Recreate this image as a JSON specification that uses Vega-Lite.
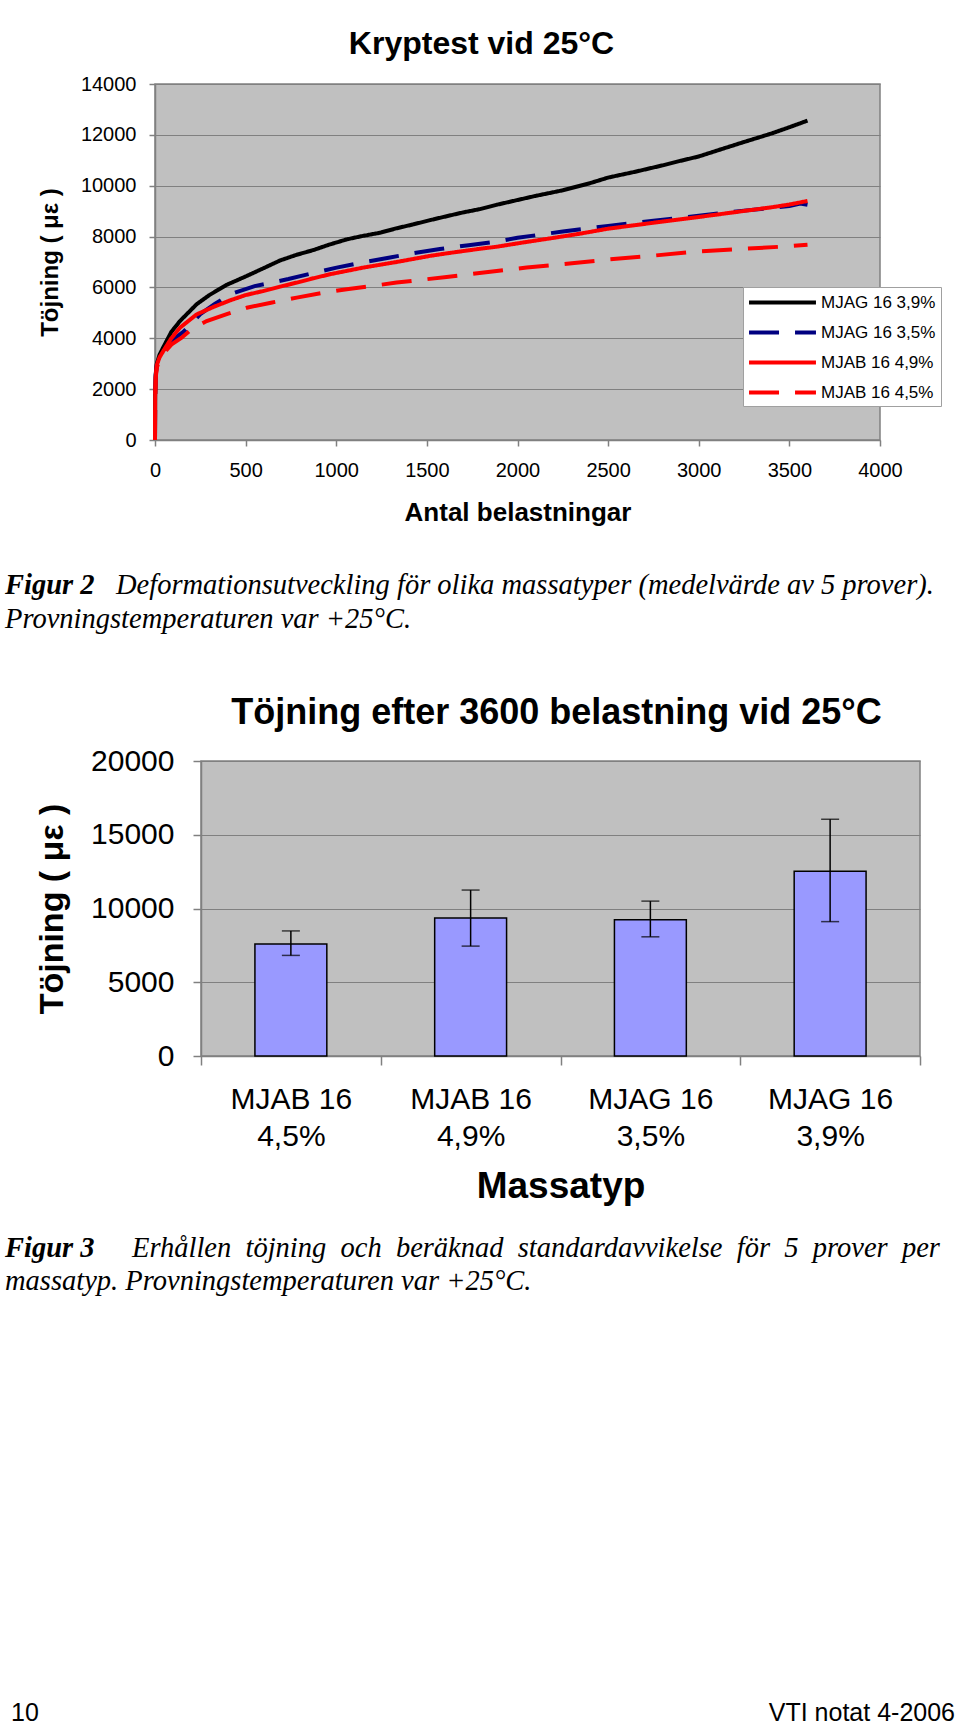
{
  "$schema": "https://vega.github.io/schema/vega-lite/v6.json",
  "padding": {"left": 5, "top": 27, "right": 5, "bottom": 0},
  "background": "white",
  "spacing": 0,
  "config": {
    "view": {"stroke": null},
    "font": "Liberation Sans",
    "axis": {"labelColor": "black", "titleColor": "black", "domainColor": "#808080", "tickColor": "#808080", "labelFont": "Liberation Sans", "titleFont": "Liberation Sans", "titleFontWeight": "bold", "gridColor": "#808080", "gridWidth": 1, "domainWidth": 1.5, "tickWidth": 1.5},
    "title": {"color": "black"}
  },
  "datasets": {
    "curves": [
      {"series": "MJAG 16 3,9%", "n": 0, "e": 0}, {"series": "MJAG 16 3,9%", "n": 1, "e": 1800}, {"series": "MJAG 16 3,9%", "n": 4, "e": 2600}, {"series": "MJAG 16 3,9%", "n": 10, "e": 3000}, {"series": "MJAG 16 3,9%", "n": 25, "e": 3350}, {"series": "MJAG 16 3,9%", "n": 46, "e": 3650}, {"series": "MJAG 16 3,9%", "n": 90, "e": 4250}, {"series": "MJAG 16 3,9%", "n": 138, "e": 4680}, {"series": "MJAG 16 3,9%", "n": 230, "e": 5340}, {"series": "MJAG 16 3,9%", "n": 300, "e": 5700}, {"series": "MJAG 16 3,9%", "n": 395, "e": 6100}, {"series": "MJAG 16 3,9%", "n": 506, "e": 6450}, {"series": "MJAG 16 3,9%", "n": 600, "e": 6760}, {"series": "MJAG 16 3,9%", "n": 690, "e": 7060}, {"series": "MJAG 16 3,9%", "n": 780, "e": 7280}, {"series": "MJAG 16 3,9%", "n": 874, "e": 7470}, {"series": "MJAG 16 3,9%", "n": 960, "e": 7680}, {"series": "MJAG 16 3,9%", "n": 1058, "e": 7890}, {"series": "MJAG 16 3,9%", "n": 1150, "e": 8030}, {"series": "MJAG 16 3,9%", "n": 1241, "e": 8150}, {"series": "MJAG 16 3,9%", "n": 1330, "e": 8320}, {"series": "MJAG 16 3,9%", "n": 1425, "e": 8480}, {"series": "MJAG 16 3,9%", "n": 1520, "e": 8650}, {"series": "MJAG 16 3,9%", "n": 1609, "e": 8800}, {"series": "MJAG 16 3,9%", "n": 1700, "e": 8950}, {"series": "MJAG 16 3,9%", "n": 1793, "e": 9080}, {"series": "MJAG 16 3,9%", "n": 1885, "e": 9250}, {"series": "MJAG 16 3,9%", "n": 1977, "e": 9400}, {"series": "MJAG 16 3,9%", "n": 2100, "e": 9600}, {"series": "MJAG 16 3,9%", "n": 2250, "e": 9820}, {"series": "MJAG 16 3,9%", "n": 2400, "e": 10100}, {"series": "MJAG 16 3,9%", "n": 2500, "e": 10320}, {"series": "MJAG 16 3,9%", "n": 2650, "e": 10550}, {"series": "MJAG 16 3,9%", "n": 2800, "e": 10800}, {"series": "MJAG 16 3,9%", "n": 2900, "e": 10980}, {"series": "MJAG 16 3,9%", "n": 3000, "e": 11150}, {"series": "MJAG 16 3,9%", "n": 3100, "e": 11380}, {"series": "MJAG 16 3,9%", "n": 3250, "e": 11720}, {"series": "MJAG 16 3,9%", "n": 3400, "e": 12050}, {"series": "MJAG 16 3,9%", "n": 3500, "e": 12300}, {"series": "MJAG 16 3,9%", "n": 3600, "e": 12560},
      {"series": "MJAG 16 3,5%", "n": 0, "e": 0}, {"series": "MJAG 16 3,5%", "n": 1, "e": 1750}, {"series": "MJAG 16 3,5%", "n": 4, "e": 2550}, {"series": "MJAG 16 3,5%", "n": 10, "e": 2950}, {"series": "MJAG 16 3,5%", "n": 25, "e": 3250}, {"series": "MJAG 16 3,5%", "n": 46, "e": 3480}, {"series": "MJAG 16 3,5%", "n": 90, "e": 3900}, {"series": "MJAG 16 3,5%", "n": 156, "e": 4250}, {"series": "MJAG 16 3,5%", "n": 250, "e": 4950}, {"series": "MJAG 16 3,5%", "n": 330, "e": 5350}, {"series": "MJAG 16 3,5%", "n": 414, "e": 5730}, {"series": "MJAG 16 3,5%", "n": 550, "e": 6050}, {"series": "MJAG 16 3,5%", "n": 736, "e": 6330}, {"series": "MJAG 16 3,5%", "n": 870, "e": 6560}, {"series": "MJAG 16 3,5%", "n": 1002, "e": 6780}, {"series": "MJAG 16 3,5%", "n": 1150, "e": 6990}, {"series": "MJAG 16 3,5%", "n": 1297, "e": 7180}, {"series": "MJAG 16 3,5%", "n": 1430, "e": 7350}, {"series": "MJAG 16 3,5%", "n": 1572, "e": 7510}, {"series": "MJAG 16 3,5%", "n": 1730, "e": 7660}, {"series": "MJAG 16 3,5%", "n": 1885, "e": 7800}, {"series": "MJAG 16 3,5%", "n": 2000, "e": 7950}, {"series": "MJAG 16 3,5%", "n": 2250, "e": 8200}, {"series": "MJAG 16 3,5%", "n": 2500, "e": 8420}, {"series": "MJAG 16 3,5%", "n": 2750, "e": 8620}, {"series": "MJAG 16 3,5%", "n": 3000, "e": 8820}, {"series": "MJAG 16 3,5%", "n": 3250, "e": 9020}, {"series": "MJAG 16 3,5%", "n": 3500, "e": 9200}, {"series": "MJAG 16 3,5%", "n": 3560, "e": 9300}, {"series": "MJAG 16 3,5%", "n": 3600, "e": 9250},
      {"series": "MJAB 16 4,9%", "n": 0, "e": 0}, {"series": "MJAB 16 4,9%", "n": 1, "e": 1700}, {"series": "MJAB 16 4,9%", "n": 4, "e": 2500}, {"series": "MJAB 16 4,9%", "n": 10, "e": 2950}, {"series": "MJAB 16 4,9%", "n": 25, "e": 3250}, {"series": "MJAB 16 4,9%", "n": 46, "e": 3500}, {"series": "MJAB 16 4,9%", "n": 90, "e": 4000}, {"series": "MJAB 16 4,9%", "n": 138, "e": 4420}, {"series": "MJAB 16 4,9%", "n": 230, "e": 4940}, {"series": "MJAB 16 4,9%", "n": 322, "e": 5230}, {"series": "MJAB 16 4,9%", "n": 414, "e": 5490}, {"series": "MJAB 16 4,9%", "n": 500, "e": 5700}, {"series": "MJAB 16 4,9%", "n": 598, "e": 5860}, {"series": "MJAB 16 4,9%", "n": 690, "e": 6030}, {"series": "MJAB 16 4,9%", "n": 782, "e": 6190}, {"series": "MJAB 16 4,9%", "n": 874, "e": 6360}, {"series": "MJAB 16 4,9%", "n": 966, "e": 6520}, {"series": "MJAB 16 4,9%", "n": 1058, "e": 6650}, {"series": "MJAB 16 4,9%", "n": 1149, "e": 6780}, {"series": "MJAB 16 4,9%", "n": 1241, "e": 6890}, {"series": "MJAB 16 4,9%", "n": 1333, "e": 7000}, {"series": "MJAB 16 4,9%", "n": 1425, "e": 7120}, {"series": "MJAB 16 4,9%", "n": 1517, "e": 7240}, {"series": "MJAB 16 4,9%", "n": 1609, "e": 7340}, {"series": "MJAB 16 4,9%", "n": 1701, "e": 7430}, {"series": "MJAB 16 4,9%", "n": 1793, "e": 7520}, {"series": "MJAB 16 4,9%", "n": 1885, "e": 7600}, {"series": "MJAB 16 4,9%", "n": 2051, "e": 7790}, {"series": "MJAB 16 4,9%", "n": 2200, "e": 7950}, {"series": "MJAB 16 4,9%", "n": 2350, "e": 8120}, {"series": "MJAB 16 4,9%", "n": 2500, "e": 8310}, {"series": "MJAB 16 4,9%", "n": 2650, "e": 8450}, {"series": "MJAB 16 4,9%", "n": 2800, "e": 8590}, {"series": "MJAB 16 4,9%", "n": 3000, "e": 8770}, {"series": "MJAB 16 4,9%", "n": 3200, "e": 8960}, {"series": "MJAB 16 4,9%", "n": 3400, "e": 9150}, {"series": "MJAB 16 4,9%", "n": 3500, "e": 9260}, {"series": "MJAB 16 4,9%", "n": 3600, "e": 9400},
      {"series": "MJAB 16 4,5%", "n": 0, "e": 0}, {"series": "MJAB 16 4,5%", "n": 1, "e": 1650}, {"series": "MJAB 16 4,5%", "n": 4, "e": 2450}, {"series": "MJAB 16 4,5%", "n": 10, "e": 2850}, {"series": "MJAB 16 4,5%", "n": 25, "e": 3150}, {"series": "MJAB 16 4,5%", "n": 46, "e": 3400}, {"series": "MJAB 16 4,5%", "n": 90, "e": 3750}, {"series": "MJAB 16 4,5%", "n": 147, "e": 4020}, {"series": "MJAB 16 4,5%", "n": 200, "e": 4350}, {"series": "MJAB 16 4,5%", "n": 285, "e": 4680}, {"series": "MJAB 16 4,5%", "n": 400, "e": 4960}, {"series": "MJAB 16 4,5%", "n": 506, "e": 5200}, {"series": "MJAB 16 4,5%", "n": 640, "e": 5400}, {"series": "MJAB 16 4,5%", "n": 782, "e": 5600}, {"series": "MJAB 16 4,5%", "n": 920, "e": 5780}, {"series": "MJAB 16 4,5%", "n": 1058, "e": 5930}, {"series": "MJAB 16 4,5%", "n": 1200, "e": 6060}, {"series": "MJAB 16 4,5%", "n": 1333, "e": 6190}, {"series": "MJAB 16 4,5%", "n": 1470, "e": 6300}, {"series": "MJAB 16 4,5%", "n": 1609, "e": 6410}, {"series": "MJAB 16 4,5%", "n": 1750, "e": 6530}, {"series": "MJAB 16 4,5%", "n": 1885, "e": 6650}, {"series": "MJAB 16 4,5%", "n": 2051, "e": 6780}, {"series": "MJAB 16 4,5%", "n": 2300, "e": 6950}, {"series": "MJAB 16 4,5%", "n": 2500, "e": 7100}, {"series": "MJAB 16 4,5%", "n": 2750, "e": 7250}, {"series": "MJAB 16 4,5%", "n": 3000, "e": 7420}, {"series": "MJAB 16 4,5%", "n": 3250, "e": 7520}, {"series": "MJAB 16 4,5%", "n": 3500, "e": 7620}, {"series": "MJAB 16 4,5%", "n": 3600, "e": 7680}
    ],
    "bars": [
      {"typ": "MJAB 16 4,5%", "strain": 7600, "low": 6820, "high": 8480},
      {"typ": "MJAB 16 4,9%", "strain": 9350, "low": 7450, "high": 11250},
      {"typ": "MJAG 16 3,5%", "strain": 9230, "low": 8080, "high": 10500},
      {"typ": "MJAG 16 3,9%", "strain": 12520, "low": 9110, "high": 16050}
    ],
    "spacer": [{"s": 1}],
    "caption2": [{"fig": "Figur 2", "line1": "Deformationsutveckling för olika massatyper (medelvärde av 5 prover).", "line2": "Provningstemperaturen var +25°C."}],
    "caption3": [{"fig": "Figur 3", "line1": "Erhållen\u00a0 töjning\u00a0 och\u00a0 beräknad\u00a0 standardavvikelse\u00a0 för\u00a0 5\u00a0 prover\u00a0 per", "line2": "massatyp. Provningstemperaturen var +25°C."}],
    "footer": [{"page": "10", "report": "VTI notat 4-2006"}]
  },
  "vconcat": [
    {
      "bounds": "flush",
      "spacing": 0,
      "hconcat": [
        {"width": 150, "height": 487, "data": {"name": "spacer"}, "mark": {"type": "point", "opacity": 0}},
        {
          "width": 725,
          "height": 356,
          "view": {"fill": "#C0C0C0", "stroke": "#808080", "strokeWidth": 1.5},
          "title": {"text": "Kryptest vid 25°C", "font": "Liberation Sans", "fontSize": 32, "fontWeight": "bold", "color": "black", "anchor": "middle", "frame": "group", "dx": -36, "offset": 13},
          "data": {"name": "curves"},
          "mark": {"type": "line", "strokeWidth": 4},
          "encoding": {
            "x": {"field": "n", "type": "quantitative", "scale": {"domain": [0, 4000], "nice": false},
              "axis": {"title": "Antal belastningar", "values": [0, 500, 1000, 1500, 2000, 2500, 3000, 3500, 4000], "format": "d", "grid": false, "tickSize": 6, "labelPadding": 14, "labelFontSize": 20, "titleFontSize": 26, "titlePadding": 19, "labelFlush": false, "labelOverlap": false}},
            "y": {"field": "e", "type": "quantitative", "scale": {"domain": [0, 14000], "nice": false},
              "axis": {"title": "Töjning ( με )", "values": [0, 2000, 4000, 6000, 8000, 10000, 12000, 14000], "format": "d", "grid": true, "tickSize": 6, "labelPadding": 13, "labelFontSize": 20, "titleFontSize": 24, "titlePadding": 17.5}},
            "color": {"field": "series", "type": "nominal",
              "scale": {"domain": ["MJAG 16 3,9%", "MJAG 16 3,5%", "MJAB 16 4,9%", "MJAB 16 4,5%"], "range": ["#000000", "#000080", "#FF0000", "#FF0000"]},
              "legend": {"title": null, "orient": "none", "legendX": 738, "legendY": 203, "symbolType": "M-4,0H4", "symbolSize": 280, "symbolStrokeWidth": 4, "labelFontSize": 17, "labelColor": "black", "labelOffset": 28, "symbolOffset": 24, "fillColor": "white", "strokeColor": "#A0A0A0", "padding": 5, "rowPadding": 11, "labelLimit": 220}},
            "strokeDash": {"field": "series", "type": "nominal",
              "scale": {"domain": ["MJAG 16 3,9%", "MJAG 16 3,5%", "MJAB 16 4,9%", "MJAB 16 4,5%"], "range": [[1, 0], [30, 16], [1, 0], [30, 16]]},
              "legend": {"title": null, "orient": "none", "legendX": 738, "legendY": 203, "symbolType": "M-4,0H4", "symbolSize": 280, "symbolStrokeWidth": 4, "labelFontSize": 17, "labelColor": "black", "labelOffset": 28, "symbolOffset": 24, "fillColor": "white", "strokeColor": "#A0A0A0", "padding": 5, "rowPadding": 11, "labelLimit": 220}}
          }
        }
      ]
    },
    {
      "width": 950,
      "height": 123,
      "data": {"name": "caption2"},
      "layer": [
        {"mark": {"type": "text", "align": "left", "baseline": "top", "font": "Liberation Serif", "fontSize": 28.5, "fontStyle": "italic", "fontWeight": "bold", "color": "black"},
          "encoding": {"text": {"field": "fig"}, "x": {"value": 0}, "y": {"value": 0}}},
        {"mark": {"type": "text", "align": "left", "baseline": "top", "font": "Liberation Serif", "fontSize": 28.5, "fontStyle": "italic", "color": "black", "dx": 111},
          "encoding": {"text": {"field": "line1"}, "x": {"value": 0}, "y": {"value": 0}}},
        {"mark": {"type": "text", "align": "left", "baseline": "top", "font": "Liberation Serif", "fontSize": 28.5, "fontStyle": "italic", "color": "black", "dy": 34},
          "encoding": {"text": {"field": "line2"}, "x": {"value": 0}, "y": {"value": 0}}}
      ]
    },
    {
      "bounds": "flush",
      "spacing": 0,
      "hconcat": [
        {"width": 196, "height": 473, "data": {"name": "spacer"}, "mark": {"type": "point", "opacity": 0}},
        {
          "width": 719,
          "height": 295,
          "view": {"fill": "#C0C0C0", "stroke": "#808080", "strokeWidth": 1.5},
          "title": {"text": "Töjning efter 3600 belastning vid 25°C", "font": "Liberation Sans", "fontSize": 36, "fontWeight": "bold", "color": "black", "anchor": "middle", "frame": "group", "dx": -4, "offset": 14},
          "data": {"name": "bars"},
          "encoding": {
            "x": {"field": "typ", "type": "nominal", "sort": null, "scale": {"paddingInner": 0, "paddingOuter": 0},
              "axis": {"title": "Massatyp", "labelAngle": 0, "labelExpr": "[substring(datum.label, 0, 7), substring(datum.label, 8)]", "labelLineHeight": 37, "labelFontSize": 30, "tickBand": "extent", "ticks": true, "tickSize": 9, "labelPadding": 19.5, "titleFontSize": 37, "titlePadding": 16.5}}
          },
          "layer": [
            {"mark": {"type": "bar", "fill": "#9999FF", "stroke": "black", "strokeWidth": 1.5, "width": {"band": 0.4}},
              "encoding": {"y": {"field": "strain", "type": "quantitative", "scale": {"domain": [0, 20000], "nice": false},
                "axis": {"title": "Töjning ( με )", "values": [0, 5000, 10000, 15000, 20000], "format": "d", "grid": true, "tickSize": 8, "labelPadding": 19, "labelFontSize": 30, "titleFontSize": 34, "titlePadding": 21}}}},
            {"mark": {"type": "rule", "strokeWidth": 1.5, "color": "black"},
              "encoding": {"y": {"field": "low", "type": "quantitative"}, "y2": {"field": "high"}}},
            {"mark": {"type": "tick", "thickness": 1.5, "size": 18, "color": "black"},
              "encoding": {"y": {"field": "low", "type": "quantitative"}}},
            {"mark": {"type": "tick", "thickness": 1.5, "size": 18, "color": "black"},
              "encoding": {"y": {"field": "high", "type": "quantitative"}}}
          ]
        }
      ]
    },
    {
      "width": 950,
      "height": 467,
      "data": {"name": "caption3"},
      "layer": [
        {"mark": {"type": "text", "align": "left", "baseline": "top", "font": "Liberation Serif", "fontSize": 28.5, "fontStyle": "italic", "fontWeight": "bold", "color": "black"},
          "encoding": {"text": {"field": "fig"}, "x": {"value": 0}, "y": {"value": 0}}},
        {"mark": {"type": "text", "align": "left", "baseline": "top", "font": "Liberation Serif", "fontSize": 28.5, "fontStyle": "italic", "color": "black", "dx": 127},
          "encoding": {"text": {"field": "line1"}, "x": {"value": 0}, "y": {"value": 0}}},
        {"mark": {"type": "text", "align": "left", "baseline": "top", "font": "Liberation Serif", "fontSize": 28.5, "fontStyle": "italic", "color": "black", "dy": 33},
          "encoding": {"text": {"field": "line2"}, "x": {"value": 0}, "y": {"value": 0}}}
      ]
    },
    {
      "width": 950,
      "height": 18,
      "data": {"name": "footer"},
      "layer": [
        {"mark": {"type": "text", "align": "left", "baseline": "top", "font": "Liberation Sans", "fontSize": 25, "color": "black", "dx": 6},
          "encoding": {"text": {"field": "page"}, "x": {"value": 0}, "y": {"value": 0}}},
        {"mark": {"type": "text", "align": "right", "baseline": "top", "font": "Liberation Sans", "fontSize": 25, "color": "black"},
          "encoding": {"text": {"field": "report"}, "x": {"value": "width"}, "y": {"value": 0}}}
      ]
    }
  ]
}
